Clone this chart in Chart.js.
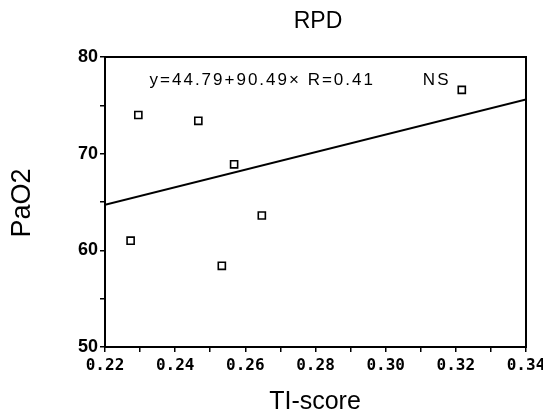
<!DOCTYPE html>
<html>
<head>
<meta charset="utf-8">
<script src="https://cdn.jsdelivr.net/npm/chart.js@4"></script>
<style>
  html, body { margin: 0; padding: 0; background: #fff; }
  canvas { display: block; }
</style>
</head>
<body>
<canvas id="rpd" width="543" height="416"></canvas>
<script>
// values
var tiScore = [0.2273, 0.2295, 0.2466, 0.2533, 0.2568, 0.2647, 0.3217];
var paO2 = [61.0, 74.0, 73.4, 58.4, 68.9, 63.6, 76.6];

// regression line end points (y = 44.79 + 90.49x)
var fitX = [0.22, 0.34];
var fitY = [64.7, 75.6];

var xTickLabels = ['0.22', '0.24', '0.26', '0.28', '0.30', '0.32', '0.34'];
var yTickLabels = ['50', '60', '70', '80'];

var chartTitle = 'RPD';
var xTitle = 'TI-score';
var yTitle = 'PaO2';
var fitText = 'y=44.79+90.49\u00d7 R=0.41';
var sigText = 'NS';

var pts = tiScore.map(function (v, i) { return {x: v, y: paO2[i]}; });
var fitPts = fitX.map(function (v, i) { return {x: v, y: fitY[i]}; });

var tickFontX = {family: '"DejaVu Sans Mono", monospace', size: 16, weight: 'bold'};
var tickFontY = {family: '"Liberation Sans Narrow", "Liberation Sans", Arial', size: 18, weight: 'bold'};

var textPlugin = {
  id: 'texts',
  afterDraw: function (chart) {
    var ctx = chart.ctx, a = chart.chartArea;
    var xs = chart.scales.x;
    ctx.save();
    // box round the plot
    ctx.strokeStyle = '#000';
    ctx.lineWidth = 2;
    ctx.strokeRect(a.left, a.top, a.right - a.left, a.bottom - a.top);

    ctx.fillStyle = '#000';
    ctx.textAlign = 'center';
    ctx.textBaseline = 'alphabetic';
    ctx.font = '23px "Liberation Sans", Arial, sans-serif';
    ctx.fillText(chartTitle, 318, 28);

    ctx.font = '25px "Liberation Sans", Arial, sans-serif';
    ctx.fillText(xTitle, 315, 409);

    ctx.save();
    ctx.translate(30, 203);
    ctx.rotate(-Math.PI / 2);
    ctx.font = '27px "Liberation Sans", Arial, sans-serif';
    ctx.fillText(yTitle, 0, 0);
    ctx.restore();

    ctx.textAlign = 'left';
    ctx.font = '17px "Liberation Sans", Arial, sans-serif';
    ctx.letterSpacing = '2px';
    ctx.fillText(fitText, xs.getPixelForValue(0.2327), 85);
    ctx.fillText(sigText, xs.getPixelForValue(0.3106), 85);
    ctx.restore();
  }
};

new Chart('rpd', {
  type: 'scatter',
  data: {
    datasets: [{
      data: pts,
      pointStyle: 'rect',
      pointRadius: 5,
      pointBorderWidth: 1.6,
      pointBorderColor: '#000',
      pointBackgroundColor: '#fff',
      showLine: false
    }, {
      type: 'line',
      data: fitPts,
      borderColor: '#000',
      borderWidth: 2,
      pointRadius: 0,
      fill: false
    }]
  },
  options: {
    responsive: false,
    animation: false,
    layout: {padding: {left: 0, right: 17, top: 57, bottom: 0}},
    plugins: {legend: {display: false}, tooltip: {enabled: false}},
    scales: {
      x: {
        type: 'linear',
        min: 0.22,
        max: 0.34,
        afterFit: function (s) {
          s.height = 69;
          s.paddingLeft = 0;
          s.paddingRight = 0;
        },
        border: {color: '#000', width: 2},
        grid: {drawOnChartArea: false, color: '#000', lineWidth: 1.5, tickLength: 5},
        ticks: {
          stepSize: 0.01,
          autoSkip: false,
          maxRotation: 0,
          padding: 4,
          color: '#000',
          font: tickFontX,
          callback: function (v) {
            var s = v.toFixed(2);
            return xTickLabels.indexOf(s) >= 0 ? s : '';
          }
        }
      },
      y: {
        min: 50,
        max: 80,
        afterFit: function (s) {
          s.width = 105;
          s.paddingTop = 0;
          s.paddingBottom = 0;
        },
        border: {color: '#000', width: 2},
        grid: {drawOnChartArea: false, color: '#000', lineWidth: 1.5, tickLength: 5},
        ticks: {
          stepSize: 5,
          padding: 2,
          color: '#000',
          font: tickFontY,
          callback: function (v) {
            var s = String(Math.round(v));
            return yTickLabels.indexOf(s) >= 0 ? s : '';
          }
        }
      }
    }
  },
  plugins: [textPlugin]
});
</script>
</body>
</html>
